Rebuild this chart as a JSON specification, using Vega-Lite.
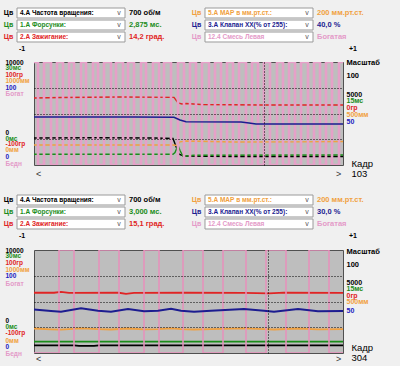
{
  "$schema": "https://vega.github.io/schema/vega-lite/v6.json",
  "background": "#f0f0f0",
  "padding": {"left": 3, "top": 0, "right": 40, "bottom": 10},
  "bounds": "flush",
  "spacing": 0,
  "config": {"font": "Liberation Sans", "view": {"stroke": null}},
  "datasets": {
    "h1": [
      {"side": "L", "row": 1, "chan": "Частота вращения", "name": "4.А  Частота вращения:", "val": "700 об/м"},
      {"side": "L", "row": 2, "chan": "Форсунки", "name": "1.А  Форсунки:", "val": "2,875 мс."},
      {"side": "L", "row": 3, "chan": "Зажигание", "name": "2.А  Зажигание:", "val": "14,2 град."},
      {"side": "R", "row": 1, "chan": "МАР", "name": "5.А  МАР в мм.рт.ст.:", "val": "200 мм.рт.ст."},
      {"side": "R", "row": 2, "chan": "Клапан ХХ", "name": "3.А  Клапан ХХ(% от 255):", "val": "40,0 %"},
      {"side": "R", "row": 3, "chan": "Смесь Левая", "name": "12.4  Смесь Левая", "val": "Богатая"}
    ],
    "h2": [
      {"side": "L", "row": 1, "chan": "Частота вращения", "name": "4.А  Частота вращения:", "val": "700 об/м"},
      {"side": "L", "row": 2, "chan": "Форсунки", "name": "1.А  Форсунки:", "val": "3,000 мс."},
      {"side": "L", "row": 3, "chan": "Зажигание", "name": "2.А  Зажигание:", "val": "15,1 град."},
      {"side": "R", "row": 1, "chan": "МАР", "name": "5.А  МАР в мм.рт.ст.:", "val": "200 мм.рт.ст."},
      {"side": "R", "row": 2, "chan": "Клапан ХХ", "name": "3.А  Клапан ХХ(% от 255):", "val": "30,0 %"},
      {"side": "R", "row": 3, "chan": "Смесь Левая", "name": "12.4  Смесь Левая", "val": "Богатая"}
    ],
    "btn": [
      {"side": "L", "row": 4, "b": "-1"},
      {"side": "R", "row": 4, "b": "+1"}
    ],
    "pink1": [
      {"t": 0, "v": 100}, {"t": 4, "v": 0}, {"t": 10, "v": 100}, {"t": 17, "v": 0}, {"t": 23, "v": 100},
      {"t": 29, "v": 0}, {"t": 35, "v": 100}, {"t": 40, "v": 0}, {"t": 47, "v": 100}, {"t": 52, "v": 0},
      {"t": 59, "v": 100}, {"t": 64, "v": 0}, {"t": 70, "v": 100}, {"t": 77, "v": 0}, {"t": 82, "v": 100},
      {"t": 89, "v": 0}, {"t": 94, "v": 100}, {"t": 100, "v": 0}, {"t": 107, "v": 100}, {"t": 112, "v": 0},
      {"t": 119, "v": 100}, {"t": 125, "v": 0}, {"t": 130, "v": 100}, {"t": 137, "v": 0}, {"t": 144, "v": 100},
      {"t": 150, "v": 0}, {"t": 156, "v": 100}, {"t": 162, "v": 0}, {"t": 168, "v": 100}, {"t": 175, "v": 0},
      {"t": 181, "v": 100}, {"t": 187, "v": 0}, {"t": 193, "v": 100}, {"t": 199, "v": 0}, {"t": 205, "v": 100},
      {"t": 212, "v": 0}, {"t": 218, "v": 100}, {"t": 224, "v": 0}, {"t": 230, "v": 100}, {"t": 236, "v": 0},
      {"t": 243, "v": 100}, {"t": 249, "v": 0}, {"t": 255, "v": 100}, {"t": 261, "v": 0}, {"t": 267, "v": 100},
      {"t": 274, "v": 0}, {"t": 280, "v": 100}, {"t": 286, "v": 0}, {"t": 292, "v": 100}, {"t": 298, "v": 0},
      {"t": 305, "v": 100}, {"t": 309, "v": 100}
    ],
    "pink2": [
      {"t": 0, "v": 0}, {"t": 25, "v": 100}, {"t": 40, "v": 0}, {"t": 65, "v": 100}, {"t": 85, "v": 0},
      {"t": 110, "v": 100}, {"t": 125, "v": 0}, {"t": 149, "v": 100}, {"t": 169, "v": 0}, {"t": 189, "v": 100},
      {"t": 212, "v": 0}, {"t": 232, "v": 100}, {"t": 252, "v": 0}, {"t": 275, "v": 100}, {"t": 295, "v": 0},
      {"t": 309, "v": 0}
    ],
    "s1": [
      {"chan": "Частота вращения", "t": 0, "v": 26.2}, {"chan": "Частота вращения", "t": 60, "v": 26.4},
      {"chan": "Частота вращения", "t": 120, "v": 26.2}, {"chan": "Частота вращения", "t": 139, "v": 25.8},
      {"chan": "Частота вращения", "t": 142, "v": 18}, {"chan": "Частота вращения", "t": 145, "v": 10.5},
      {"chan": "Частота вращения", "t": 150, "v": 8.8}, {"chan": "Частота вращения", "t": 200, "v": 8.3},
      {"chan": "Частота вращения", "t": 309, "v": 8.3},
      {"chan": "Форсунки", "t": 0, "v": 10.4}, {"chan": "Форсунки", "t": 139, "v": 10.4},
      {"chan": "Форсунки", "t": 141, "v": 12}, {"chan": "Форсунки", "t": 144, "v": 19},
      {"chan": "Форсунки", "t": 146, "v": 14}, {"chan": "Форсунки", "t": 149, "v": 8.5},
      {"chan": "Форсунки", "t": 160, "v": 9.5}, {"chan": "Форсунки", "t": 309, "v": 9.7},
      {"chan": "МАР", "t": 0, "v": 19.4}, {"chan": "МАР", "t": 139, "v": 19.4}, {"chan": "МАР", "t": 143, "v": 19},
      {"chan": "МАР", "t": 146, "v": 22.5}, {"chan": "МАР", "t": 152, "v": 23.3}, {"chan": "МАР", "t": 200, "v": 22.3},
      {"chan": "МАР", "t": 260, "v": 22.5}, {"chan": "МАР", "t": 309, "v": 22.8},
      {"chan": "Зажигание", "t": 0, "v": 65.0}, {"chan": "Зажигание", "t": 27, "v": 65.5},
      {"chan": "Зажигание", "t": 87, "v": 66.0}, {"chan": "Зажигание", "t": 140, "v": 65.7},
      {"chan": "Зажигание", "t": 144, "v": 60.2}, {"chan": "Зажигание", "t": 148, "v": 59.2},
      {"chan": "Зажигание", "t": 152, "v": 59.7}, {"chan": "Зажигание", "t": 167, "v": 58.7},
      {"chan": "Зажигание", "t": 227, "v": 58.3}, {"chan": "Зажигание", "t": 309, "v": 58.3},
      {"chan": "Клапан ХХ", "t": 0, "v": 46.6}, {"chan": "Клапан ХХ", "t": 100, "v": 46.6},
      {"chan": "Клапан ХХ", "t": 140, "v": 46.3}, {"chan": "Клапан ХХ", "t": 146, "v": 43.7},
      {"chan": "Клапан ХХ", "t": 152, "v": 42}, {"chan": "Клапан ХХ", "t": 207, "v": 41.7},
      {"chan": "Клапан ХХ", "t": 215, "v": 40.8}, {"chan": "Клапан ХХ", "t": 222, "v": 39.8},
      {"chan": "Клапан ХХ", "t": 309, "v": 39.8}
    ],
    "s2": [
      {"chan": "Частота вращения", "t": 0, "v": 7.5}, {"chan": "Частота вращения", "t": 40, "v": 7.5},
      {"chan": "Частота вращения", "t": 45, "v": 6.9}, {"chan": "Частота вращения", "t": 60, "v": 6.9},
      {"chan": "Частота вращения", "t": 65, "v": 7.5}, {"chan": "Частота вращения", "t": 309, "v": 7.5},
      {"chan": "Форсунки", "t": 0, "v": 11}, {"chan": "Форсунки", "t": 309, "v": 11},
      {"chan": "МАР", "t": 0, "v": 23.8}, {"chan": "МАР", "t": 17, "v": 23.0}, {"chan": "МАР", "t": 27, "v": 22.6},
      {"chan": "МАР", "t": 47, "v": 24.0}, {"chan": "МАР", "t": 64, "v": 23.2}, {"chan": "МАР", "t": 77, "v": 22.8},
      {"chan": "МАР", "t": 94, "v": 23.8}, {"chan": "МАР", "t": 110, "v": 22.9}, {"chan": "МАР", "t": 124, "v": 23.2},
      {"chan": "МАР", "t": 137, "v": 24.0}, {"chan": "МАР", "t": 147, "v": 23.2}, {"chan": "МАР", "t": 160, "v": 22.8},
      {"chan": "МАР", "t": 177, "v": 23.2}, {"chan": "МАР", "t": 210, "v": 23.9}, {"chan": "МАР", "t": 230, "v": 23.2},
      {"chan": "МАР", "t": 240, "v": 22.8}, {"chan": "МАР", "t": 264, "v": 23.8}, {"chan": "МАР", "t": 284, "v": 22.9},
      {"chan": "МАР", "t": 309, "v": 23.2},
      {"chan": "Зажигание", "t": 0, "v": 58.5}, {"chan": "Зажигание", "t": 20, "v": 58.5},
      {"chan": "Зажигание", "t": 27, "v": 59.3}, {"chan": "Зажигание", "t": 35, "v": 58.3},
      {"chan": "Зажигание", "t": 85, "v": 58.5}, {"chan": "Зажигание", "t": 92, "v": 57.5},
      {"chan": "Зажигание", "t": 100, "v": 58.3}, {"chan": "Зажигание", "t": 150, "v": 58.5},
      {"chan": "Зажигание", "t": 210, "v": 58.3}, {"chan": "Зажигание", "t": 235, "v": 57.8},
      {"chan": "Зажигание", "t": 250, "v": 58.6}, {"chan": "Зажигание", "t": 309, "v": 58.3},
      {"chan": "Клапан ХХ", "t": 0, "v": 42.2}, {"chan": "Клапан ХХ", "t": 17, "v": 40.8},
      {"chan": "Клапан ХХ", "t": 27, "v": 40.1}, {"chan": "Клапан ХХ", "t": 47, "v": 43.4},
      {"chan": "Клапан ХХ", "t": 64, "v": 41.1}, {"chan": "Клапан ХХ", "t": 77, "v": 40.1},
      {"chan": "Клапан ХХ", "t": 94, "v": 42.7}, {"chan": "Клапан ХХ", "t": 110, "v": 40.5},
      {"chan": "Клапан ХХ", "t": 124, "v": 41.1}, {"chan": "Клапан ХХ", "t": 137, "v": 43.0},
      {"chan": "Клапан ХХ", "t": 147, "v": 41.1}, {"chan": "Клапан ХХ", "t": 160, "v": 40.1},
      {"chan": "Клапан ХХ", "t": 177, "v": 41.1}, {"chan": "Клапан ХХ", "t": 210, "v": 42.7},
      {"chan": "Клапан ХХ", "t": 230, "v": 41.1}, {"chan": "Клапан ХХ", "t": 240, "v": 40.1},
      {"chan": "Клапан ХХ", "t": 264, "v": 42.7}, {"chan": "Клапан ХХ", "t": 284, "v": 40.5},
      {"chan": "Клапан ХХ", "t": 309, "v": 40.8}
    ]
  },
  "vconcat": [
    {
      "width": 309, "height": 62,
      "data": {"name": "h1"},
      "layer": [
        {"mark": {"type": "rect", "fill": "#ffffff", "stroke": "#9a9a9a", "strokeWidth": 1},
         "encoding": {
           "x": {"field": "side", "type": "nominal", "scale": {"domain": ["L", "R"], "range": [-17, 279], "paddingInner": 0.4255, "paddingOuter": 0}, "axis": null},
           "y": {"field": "row", "type": "ordinal", "scale": {"domain": [1, 2, 3, 4], "range": [8, 54], "paddingInner": 0.1667, "paddingOuter": 0}, "axis": null}}},
        {"mark": {"type": "text", "align": "left", "baseline": "middle", "dx": 3, "fontSize": 6.5, "fontWeight": "bold"},
         "encoding": {
           "x": {"field": "side", "type": "nominal", "bandPosition": 0, "scale": {"domain": ["L", "R"], "range": [-17, 279], "paddingInner": 0.4255, "paddingOuter": 0}, "axis": null},
           "y": {"field": "row", "type": "ordinal", "scale": {"domain": [1, 2, 3, 4], "range": [8, 54], "paddingInner": 0.1667, "paddingOuter": 0}, "axis": null},
           "text": {"field": "name"},
           "color": {"field": "chan", "type": "nominal", "legend": null, "scale": {"domain": ["Частота вращения", "Форсунки", "Зажигание", "МАР", "Клапан ХХ", "Смесь Левая"], "range": ["#000000", "#1a8c1a", "#e02424", "#f0a040", "#1c1c90", "#e49ac8"]}}}},
        {"mark": {"type": "text", "align": "center", "baseline": "middle", "dx": -8.5, "fontSize": 7, "fontWeight": "bold"},
         "encoding": {
           "x": {"field": "side", "type": "nominal", "bandPosition": 0, "scale": {"domain": ["L", "R"], "range": [-17, 279], "paddingInner": 0.4255, "paddingOuter": 0}, "axis": null},
           "y": {"field": "row", "type": "ordinal", "scale": {"domain": [1, 2, 3, 4], "range": [8, 54], "paddingInner": 0.1667, "paddingOuter": 0}, "axis": null},
           "text": {"value": "Цв"},
           "color": {"field": "chan", "type": "nominal", "legend": null, "scale": {"domain": ["Частота вращения", "Форсунки", "Зажигание", "МАР", "Клапан ХХ", "Смесь Левая"], "range": ["#000000", "#1a8c1a", "#e02424", "#f0a040", "#1c1c90", "#e49ac8"]}}}},
        {"mark": {"type": "text", "align": "center", "baseline": "middle", "dx": -6, "fontSize": 7, "color": "#555555"},
         "encoding": {
           "x": {"field": "side", "type": "nominal", "bandPosition": 1, "scale": {"domain": ["L", "R"], "range": [-17, 279], "paddingInner": 0.4255, "paddingOuter": 0}, "axis": null},
           "y": {"field": "row", "type": "ordinal", "scale": {"domain": [1, 2, 3, 4], "range": [8, 54], "paddingInner": 0.1667, "paddingOuter": 0}, "axis": null},
           "text": {"value": "v"}}},
        {"mark": {"type": "text", "align": "left", "baseline": "middle", "dx": 4, "fontSize": 7.5, "fontWeight": "bold"},
         "encoding": {
           "x": {"field": "side", "type": "nominal", "bandPosition": 1, "scale": {"domain": ["L", "R"], "range": [-17, 279], "paddingInner": 0.4255, "paddingOuter": 0}, "axis": null},
           "y": {"field": "row", "type": "ordinal", "scale": {"domain": [1, 2, 3, 4], "range": [8, 54], "paddingInner": 0.1667, "paddingOuter": 0}, "axis": null},
           "text": {"field": "val"},
           "color": {"field": "chan", "type": "nominal", "legend": null, "scale": {"domain": ["Частота вращения", "Форсунки", "Зажигание", "МАР", "Клапан ХХ", "Смесь Левая"], "range": ["#000000", "#1a8c1a", "#e02424", "#f0a040", "#1c1c90", "#e49ac8"]}}}},
        {"data": {"name": "btn"},
         "transform": [{"filter": "datum.side == 'L'"}],
         "mark": {"type": "text", "align": "center", "baseline": "middle", "dx": 5, "fontSize": 7, "fontWeight": "bold", "color": "#000000"},
         "encoding": {
           "x": {"field": "side", "type": "nominal", "bandPosition": 0, "scale": {"domain": ["L", "R"], "range": [-17, 279], "paddingInner": 0.4255, "paddingOuter": 0}, "axis": null},
           "y": {"field": "row", "type": "ordinal", "scale": {"domain": [1, 2, 3, 4], "range": [8, 54], "paddingInner": 0.1667, "paddingOuter": 0}, "axis": null},
           "text": {"field": "b"}}},
        {"data": {"name": "btn"},
         "transform": [{"filter": "datum.side == 'R'"}],
         "mark": {"type": "text", "align": "center", "baseline": "middle", "dx": 148, "fontSize": 7, "fontWeight": "bold", "color": "#000000"},
         "encoding": {
           "x": {"field": "side", "type": "nominal", "bandPosition": 0, "scale": {"domain": ["L", "R"], "range": [-17, 279], "paddingInner": 0.4255, "paddingOuter": 0}, "axis": null},
           "y": {"field": "row", "type": "ordinal", "scale": {"domain": [1, 2, 3, 4], "range": [8, 54], "paddingInner": 0.1667, "paddingOuter": 0}, "axis": null},
           "text": {"field": "b"}}}
      ]
    },
    {
      "width": 309, "height": 103,
      "view": {"fill": "#bebebe", "stroke": "#505050"},
      "resolve": {"scale": {"y": "independent"}},
      "layer": [
        {"data": {"name": "s1"},
         "transform": [{"filter": "datum.chan != 'Клапан ХХ'"}],
         "mark": {"type": "line", "strokeWidth": 1.4, "clip": true},
         "encoding": {
           "x": {"field": "t", "type": "quantitative", "scale": {"domain": [0, 309], "nice": false, "zero": false},
                 "axis": {"values": [4, 230, 304], "labelExpr": "datum.value < 100 ? '<' : datum.value > 300 ? '>' : ''", "ticks": false, "domain": false, "labelFlush": false, "labelOverlap": false, "labelBound": false, "labelPadding": 4, "labelFontSize": 9, "labelColor": "#333333", "grid": true, "gridColor": "#000000", "gridDash": [1, 2], "gridOpacity": {"condition": {"test": "datum.value == 230", "value": 1}, "value": 0}, "title": ["Кадр", "103"], "titleFontSize": 9.5, "titleFontWeight": "normal", "titleColor": "#000000", "titleAlign": "left", "titleAnchor": "start", "titleBaseline": "middle", "titleX": 317, "titleY": -2, "titleLineHeight": 10, "zindex": 1}},
           "y": {"field": "v", "type": "quantitative", "scale": {"domain": [0, 100], "nice": false, "zero": false},
                 "axis": {"orient": "right", "values": [68.6, 62.2, 55.8, 49.2, 42.2], "labelExpr": "datum.value == 68.6 ? '5000' : datum.value == 62.2 ? '15мс' : datum.value == 55.8 ? '0гр' : datum.value == 49.2 ? '500мм' : '50'", "labelColor": {"condition": [{"test": "datum.value == 68.6", "value": "#000000"}, {"test": "datum.value == 62.2", "value": "#1a8c1a"}, {"test": "datum.value == 55.8", "value": "#e02424"}, {"test": "datum.value == 49.2", "value": "#f0a040"}], "value": "#2020c0"}, "labelAlign": "left", "labelPadding": 3, "labelFontSize": 7, "labelFontWeight": "bold", "labelOverlap": false, "labelBound": false, "labelFlush": false, "ticks": false, "domain": false, "grid": false, "title": ["Масштаб", "100"], "titleAngle": 0, "titleAlign": "left", "titleBaseline": "middle", "titleX": 3, "titleY": 0, "titleFontSize": 7.5, "titleFontWeight": "bold", "titleColor": "#000000", "titleLineHeight": 13}},
           "color": {"field": "chan", "type": "nominal", "legend": null, "scale": {"domain": ["Частота вращения", "Форсунки", "Зажигание", "МАР", "Клапан ХХ"], "range": ["#000000", "#1e6e1e", "#d83a3a", "#f0a050", "#2828c8"]}}}},
        {"data": {"name": "pink1"},
         "mark": {"type": "line", "interpolate": "step-after", "color": "#e6a0c8", "strokeWidth": 2.6, "clip": true},
         "encoding": {
           "x": {"field": "t", "type": "quantitative", "scale": {"domain": [0, 309], "nice": false, "zero": false},
                 "axis": {"values": [4, 230, 304], "labelExpr": "datum.value < 100 ? '<' : datum.value > 300 ? '>' : ''", "ticks": false, "domain": false, "labelFlush": false, "labelOverlap": false, "labelBound": false, "labelPadding": 4, "labelFontSize": 9, "labelColor": "#333333", "grid": true, "gridColor": "#000000", "gridDash": [1, 2], "gridOpacity": {"condition": {"test": "datum.value == 230", "value": 1}, "value": 0}, "title": ["Кадр", "103"], "titleFontSize": 9.5, "titleFontWeight": "normal", "titleColor": "#000000", "titleAlign": "left", "titleAnchor": "start", "titleBaseline": "middle", "titleX": 317, "titleY": -2, "titleLineHeight": 10, "zindex": 1}},
           "y": {"field": "v", "type": "quantitative", "scale": {"domain": [0, 100], "nice": false, "zero": false},
                 "axis": {"orient": "left", "values": [100, 94.2, 88.3, 82.5, 75.7, 69.9, 32, 26.2, 20.4, 14.6, 8.7, 1.9, 25, 50, 75], "labelExpr": "datum.value == 100 ? '10000' : datum.value == 94.2 ? '30мс' : datum.value == 88.3 ? '100гр' : datum.value == 82.5 ? '1000мм' : datum.value == 75.7 ? '100' : datum.value == 69.9 ? 'Богат' : datum.value == 32 ? '0' : datum.value == 26.2 ? '0мс' : datum.value == 20.4 ? '-100гр' : datum.value == 14.6 ? '0мм' : datum.value == 8.7 ? '0' : datum.value == 1.9 ? 'Бедн' : ''", "labelColor": {"condition": [{"test": "datum.value == 100 || datum.value == 32", "value": "#000000"}, {"test": "datum.value == 94.2 || datum.value == 26.2", "value": "#1a8c1a"}, {"test": "datum.value == 88.3 || datum.value == 20.4", "value": "#e02424"}, {"test": "datum.value == 82.5 || datum.value == 14.6", "value": "#f0a040"}, {"test": "datum.value == 75.7 || datum.value == 8.7", "value": "#2020c0"}], "value": "#e49ac8"}, "labelAlign": "left", "labelPadding": 29, "labelFontSize": 6.5, "labelFontWeight": "bold", "labelOverlap": false, "labelBound": false, "labelFlush": false, "ticks": false, "domain": false, "title": null, "grid": true, "gridColor": "#000000", "gridDash": [1, 2], "gridOpacity": {"condition": {"test": "datum.value == 25 || datum.value == 50 || datum.value == 75", "value": 1}, "value": 0}, "zindex": 1}}}},
        {"data": {"name": "s1"},
         "transform": [{"filter": "datum.chan == 'Клапан ХХ'"}],
         "mark": {"type": "line", "strokeWidth": 1.5, "clip": true},
         "encoding": {
           "x": {"field": "t", "type": "quantitative", "scale": {"domain": [0, 309], "nice": false, "zero": false},
                 "axis": {"values": [4, 230, 304], "labelExpr": "datum.value < 100 ? '<' : datum.value > 300 ? '>' : ''", "ticks": false, "domain": false, "labelFlush": false, "labelOverlap": false, "labelBound": false, "labelPadding": 4, "labelFontSize": 9, "labelColor": "#333333", "grid": true, "gridColor": "#000000", "gridDash": [1, 2], "gridOpacity": {"condition": {"test": "datum.value == 230", "value": 1}, "value": 0}, "title": ["Кадр", "103"], "titleFontSize": 9.5, "titleFontWeight": "normal", "titleColor": "#000000", "titleAlign": "left", "titleAnchor": "start", "titleBaseline": "middle", "titleX": 317, "titleY": -2, "titleLineHeight": 10, "zindex": 1}},
           "y": {"field": "v", "type": "quantitative", "scale": {"domain": [0, 100], "nice": false, "zero": false}, "axis": null},
           "color": {"field": "chan", "type": "nominal", "legend": null, "scale": {"domain": ["Частота вращения", "Форсунки", "Зажигание", "МАР", "Клапан ХХ"], "range": ["#000000", "#1e6e1e", "#d83a3a", "#f0a050", "#2828c8"]}}}}
      ]
    },
    {
      "width": 309, "height": 85,
      "data": {"name": "h2"},
      "layer": [
        {"mark": {"type": "rect", "fill": "#ffffff", "stroke": "#9a9a9a", "strokeWidth": 1},
         "encoding": {
           "x": {"field": "side", "type": "nominal", "scale": {"domain": ["L", "R"], "range": [-17, 279], "paddingInner": 0.4255, "paddingOuter": 0}, "axis": null},
           "y": {"field": "row", "type": "ordinal", "scale": {"domain": [1, 2, 3, 4], "range": [30, 76], "paddingInner": 0.1667, "paddingOuter": 0}, "axis": null}}},
        {"mark": {"type": "text", "align": "left", "baseline": "middle", "dx": 3, "fontSize": 6.5, "fontWeight": "bold"},
         "encoding": {
           "x": {"field": "side", "type": "nominal", "bandPosition": 0, "scale": {"domain": ["L", "R"], "range": [-17, 279], "paddingInner": 0.4255, "paddingOuter": 0}, "axis": null},
           "y": {"field": "row", "type": "ordinal", "scale": {"domain": [1, 2, 3, 4], "range": [30, 76], "paddingInner": 0.1667, "paddingOuter": 0}, "axis": null},
           "text": {"field": "name"},
           "color": {"field": "chan", "type": "nominal", "legend": null, "scale": {"domain": ["Частота вращения", "Форсунки", "Зажигание", "МАР", "Клапан ХХ", "Смесь Левая"], "range": ["#000000", "#1a8c1a", "#e02424", "#f0a040", "#1c1c90", "#e49ac8"]}}}},
        {"mark": {"type": "text", "align": "center", "baseline": "middle", "dx": -8.5, "fontSize": 7, "fontWeight": "bold"},
         "encoding": {
           "x": {"field": "side", "type": "nominal", "bandPosition": 0, "scale": {"domain": ["L", "R"], "range": [-17, 279], "paddingInner": 0.4255, "paddingOuter": 0}, "axis": null},
           "y": {"field": "row", "type": "ordinal", "scale": {"domain": [1, 2, 3, 4], "range": [30, 76], "paddingInner": 0.1667, "paddingOuter": 0}, "axis": null},
           "text": {"value": "Цв"},
           "color": {"field": "chan", "type": "nominal", "legend": null, "scale": {"domain": ["Частота вращения", "Форсунки", "Зажигание", "МАР", "Клапан ХХ", "Смесь Левая"], "range": ["#000000", "#1a8c1a", "#e02424", "#f0a040", "#1c1c90", "#e49ac8"]}}}},
        {"mark": {"type": "text", "align": "center", "baseline": "middle", "dx": -6, "fontSize": 7, "color": "#555555"},
         "encoding": {
           "x": {"field": "side", "type": "nominal", "bandPosition": 1, "scale": {"domain": ["L", "R"], "range": [-17, 279], "paddingInner": 0.4255, "paddingOuter": 0}, "axis": null},
           "y": {"field": "row", "type": "ordinal", "scale": {"domain": [1, 2, 3, 4], "range": [30, 76], "paddingInner": 0.1667, "paddingOuter": 0}, "axis": null},
           "text": {"value": "v"}}},
        {"mark": {"type": "text", "align": "left", "baseline": "middle", "dx": 4, "fontSize": 7.5, "fontWeight": "bold"},
         "encoding": {
           "x": {"field": "side", "type": "nominal", "bandPosition": 1, "scale": {"domain": ["L", "R"], "range": [-17, 279], "paddingInner": 0.4255, "paddingOuter": 0}, "axis": null},
           "y": {"field": "row", "type": "ordinal", "scale": {"domain": [1, 2, 3, 4], "range": [30, 76], "paddingInner": 0.1667, "paddingOuter": 0}, "axis": null},
           "text": {"field": "val"},
           "color": {"field": "chan", "type": "nominal", "legend": null, "scale": {"domain": ["Частота вращения", "Форсунки", "Зажигание", "МАР", "Клапан ХХ", "Смесь Левая"], "range": ["#000000", "#1a8c1a", "#e02424", "#f0a040", "#1c1c90", "#e49ac8"]}}}},
        {"data": {"name": "btn"},
         "transform": [{"filter": "datum.side == 'L'"}],
         "mark": {"type": "text", "align": "center", "baseline": "middle", "dx": 5, "fontSize": 7, "fontWeight": "bold", "color": "#000000"},
         "encoding": {
           "x": {"field": "side", "type": "nominal", "bandPosition": 0, "scale": {"domain": ["L", "R"], "range": [-17, 279], "paddingInner": 0.4255, "paddingOuter": 0}, "axis": null},
           "y": {"field": "row", "type": "ordinal", "scale": {"domain": [1, 2, 3, 4], "range": [30, 76], "paddingInner": 0.1667, "paddingOuter": 0}, "axis": null},
           "text": {"field": "b"}}},
        {"data": {"name": "btn"},
         "transform": [{"filter": "datum.side == 'R'"}],
         "mark": {"type": "text", "align": "center", "baseline": "middle", "dx": 148, "fontSize": 7, "fontWeight": "bold", "color": "#000000"},
         "encoding": {
           "x": {"field": "side", "type": "nominal", "bandPosition": 0, "scale": {"domain": ["L", "R"], "range": [-17, 279], "paddingInner": 0.4255, "paddingOuter": 0}, "axis": null},
           "y": {"field": "row", "type": "ordinal", "scale": {"domain": [1, 2, 3, 4], "range": [30, 76], "paddingInner": 0.1667, "paddingOuter": 0}, "axis": null},
           "text": {"field": "b"}}}
      ]
    },
    {
      "width": 309, "height": 103,
      "view": {"fill": "#bebebe", "stroke": "#505050"},
      "resolve": {"scale": {"y": "independent"}},
      "layer": [
        {"data": {"name": "s2"},
         "transform": [{"filter": "datum.chan != 'Клапан ХХ'"}],
         "mark": {"type": "line", "strokeWidth": 1.8, "clip": true},
         "encoding": {
           "x": {"field": "t", "type": "quantitative", "scale": {"domain": [0, 309], "nice": false, "zero": false},
                 "axis": {"values": [4, 234, 304], "labelExpr": "datum.value < 100 ? '<' : datum.value > 300 ? '>' : ''", "ticks": false, "domain": false, "labelFlush": false, "labelOverlap": false, "labelBound": false, "labelPadding": 1, "labelFontSize": 9, "labelColor": "#333333", "grid": true, "gridColor": "#000000", "gridDash": [1, 2], "gridOpacity": {"condition": {"test": "datum.value == 234", "value": 1}, "value": 0}, "title": ["Кадр", "304"], "titleFontSize": 9.5, "titleFontWeight": "normal", "titleColor": "#000000", "titleAlign": "left", "titleAnchor": "start", "titleBaseline": "middle", "titleX": 317, "titleY": -6, "titleLineHeight": 10, "zindex": 1}},
           "y": {"field": "v", "type": "quantitative", "scale": {"domain": [0, 100], "nice": false, "zero": false},
                 "axis": {"orient": "right", "values": [68.6, 62.3, 56, 49.6, 41.4], "labelExpr": "datum.value == 68.6 ? '5000' : datum.value == 62.3 ? '15мс' : datum.value == 56 ? '0гр' : datum.value == 49.6 ? '500мм' : '50'", "labelColor": {"condition": [{"test": "datum.value == 68.6", "value": "#000000"}, {"test": "datum.value == 62.3", "value": "#1a8c1a"}, {"test": "datum.value == 56", "value": "#e02424"}, {"test": "datum.value == 49.6", "value": "#f0a040"}], "value": "#2020c0"}, "labelAlign": "left", "labelPadding": 3, "labelFontSize": 7, "labelFontWeight": "bold", "labelOverlap": false, "labelBound": false, "labelFlush": false, "ticks": false, "domain": false, "grid": false, "title": ["Масштаб", "100"], "titleAngle": 0, "titleAlign": "left", "titleBaseline": "middle", "titleX": 3, "titleY": 1, "titleFontSize": 7.5, "titleFontWeight": "bold", "titleColor": "#000000", "titleLineHeight": 13}},
           "color": {"field": "chan", "type": "nominal", "legend": null, "scale": {"domain": ["Частота вращения", "Форсунки", "Зажигание", "МАР", "Клапан ХХ"], "range": ["#000000", "#1e6e1e", "#d83a3a", "#f0a050", "#2828c8"]}}}},
        {"data": {"name": "pink2"},
         "mark": {"type": "line", "interpolate": "step-after", "color": "#e890bc", "strokeWidth": 1.5, "clip": true},
         "encoding": {
           "x": {"field": "t", "type": "quantitative", "scale": {"domain": [0, 309], "nice": false, "zero": false},
                 "axis": {"values": [4, 234, 304], "labelExpr": "datum.value < 100 ? '<' : datum.value > 300 ? '>' : ''", "ticks": false, "domain": false, "labelFlush": false, "labelOverlap": false, "labelBound": false, "labelPadding": 1, "labelFontSize": 9, "labelColor": "#333333", "grid": true, "gridColor": "#000000", "gridDash": [1, 2], "gridOpacity": {"condition": {"test": "datum.value == 234", "value": 1}, "value": 0}, "title": ["Кадр", "304"], "titleFontSize": 9.5, "titleFontWeight": "normal", "titleColor": "#000000", "titleAlign": "left", "titleAnchor": "start", "titleBaseline": "middle", "titleX": 317, "titleY": -6, "titleLineHeight": 10, "zindex": 1}},
           "y": {"field": "v", "type": "quantitative", "scale": {"domain": [0, 100], "nice": false, "zero": false},
                 "axis": {"orient": "left", "values": [100, 94.2, 87.7, 81.3, 74.8, 67.7, 32, 26.2, 19.7, 12.6, 6.1, 0, 25, 50, 75], "labelExpr": "datum.value == 100 ? '10000' : datum.value == 94.2 ? '30мс' : datum.value == 87.7 ? '100гр' : datum.value == 81.3 ? '1000мм' : datum.value == 74.8 ? '100' : datum.value == 67.7 ? 'Богат' : datum.value == 32 ? '0' : datum.value == 26.2 ? '0мс' : datum.value == 19.7 ? '-100гр' : datum.value == 12.6 ? '0мм' : datum.value == 6.1 ? '0' : datum.value == 0 ? 'Бедн' : ''", "labelColor": {"condition": [{"test": "datum.value == 100 || datum.value == 32", "value": "#000000"}, {"test": "datum.value == 94.2 || datum.value == 26.2", "value": "#1a8c1a"}, {"test": "datum.value == 87.7 || datum.value == 19.7", "value": "#e02424"}, {"test": "datum.value == 81.3 || datum.value == 12.6", "value": "#f0a040"}, {"test": "datum.value == 74.8 || datum.value == 6.1", "value": "#2020c0"}], "value": "#e49ac8"}, "labelAlign": "left", "labelPadding": 29, "labelFontSize": 6.5, "labelFontWeight": "bold", "labelOverlap": false, "labelBound": false, "labelFlush": false, "ticks": false, "domain": false, "title": null, "grid": true, "gridColor": "#000000", "gridDash": [1, 2], "gridOpacity": {"condition": {"test": "datum.value == 25 || datum.value == 50 || datum.value == 75", "value": 1}, "value": 0}, "zindex": 1}}}},
        {"data": {"name": "s2"},
         "transform": [{"filter": "datum.chan == 'Клапан ХХ'"}],
         "mark": {"type": "line", "strokeWidth": 2, "clip": true},
         "encoding": {
           "x": {"field": "t", "type": "quantitative", "scale": {"domain": [0, 309], "nice": false, "zero": false},
                 "axis": {"values": [4, 234, 304], "labelExpr": "datum.value < 100 ? '<' : datum.value > 300 ? '>' : ''", "ticks": false, "domain": false, "labelFlush": false, "labelOverlap": false, "labelBound": false, "labelPadding": 1, "labelFontSize": 9, "labelColor": "#333333", "grid": true, "gridColor": "#000000", "gridDash": [1, 2], "gridOpacity": {"condition": {"test": "datum.value == 234", "value": 1}, "value": 0}, "title": ["Кадр", "304"], "titleFontSize": 9.5, "titleFontWeight": "normal", "titleColor": "#000000", "titleAlign": "left", "titleAnchor": "start", "titleBaseline": "middle", "titleX": 317, "titleY": -6, "titleLineHeight": 10, "zindex": 1}},
           "y": {"field": "v", "type": "quantitative", "scale": {"domain": [0, 100], "nice": false, "zero": false}, "axis": null},
           "color": {"field": "chan", "type": "nominal", "legend": null, "scale": {"domain": ["Частота вращения", "Форсунки", "Зажигание", "МАР", "Клапан ХХ"], "range": ["#000000", "#1e6e1e", "#d83a3a", "#f0a050", "#2828c8"]}}}}
      ]
    }
  ]
}
